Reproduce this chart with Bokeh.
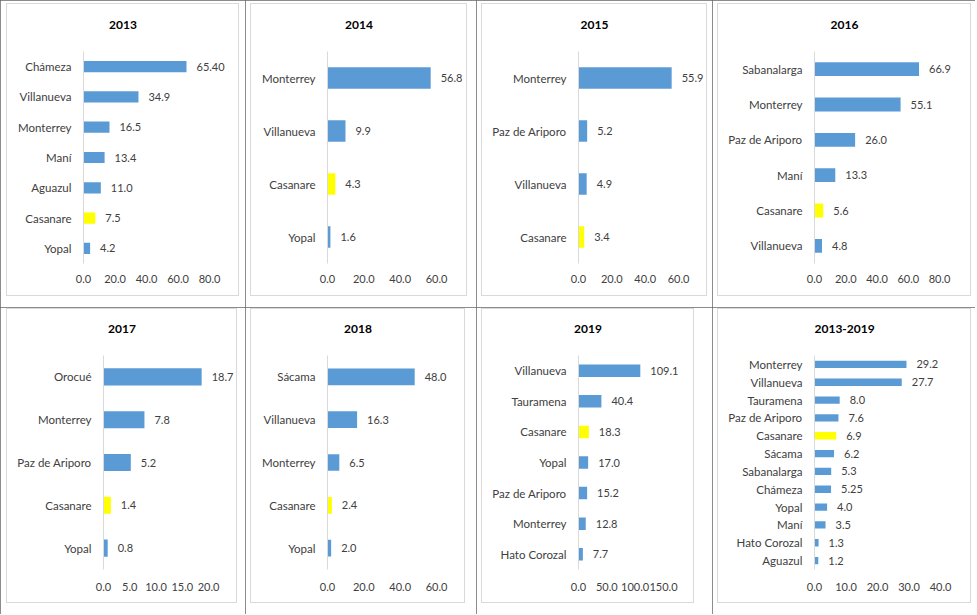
from bokeh.plotting import figure
from bokeh.models import (ColumnDataSource, Range1d, FactorRange, FixedTicker,
                          NumeralTickFormatter, InlineStyleSheet, Title)
from bokeh.layouts import row, column
from bokeh.embed import file_html
from bokeh.resources import INLINE
from bokeh.core.properties import value

# ---------------- data ----------------
title_2013 = "2013"
cats_2013 = ["Chámeza", "Villanueva", "Monterrey", "Maní", "Aguazul", "Casanare", "Yopal"]
vals_2013 = [65.40, 34.9, 16.5, 13.4, 11.0, 7.5, 4.2]
labs_2013 = ["65.40", "34.9", "16.5", "13.4", "11.0", "7.5", "4.2"]
ticks_2013 = [0, 20, 40, 60, 80]

title_2014 = "2014"
cats_2014 = ["Monterrey", "Villanueva", "Casanare", "Yopal"]
vals_2014 = [56.8, 9.9, 4.3, 1.6]
labs_2014 = ["56.8", "9.9", "4.3", "1.6"]
ticks_2014 = [0, 20, 40, 60]

title_2015 = "2015"
cats_2015 = ["Monterrey", "Paz de Ariporo", "Villanueva", "Casanare"]
vals_2015 = [55.9, 5.2, 4.9, 3.4]
labs_2015 = ["55.9", "5.2", "4.9", "3.4"]
ticks_2015 = [0, 20, 40, 60]

title_2016 = "2016"
cats_2016 = ["Sabanalarga", "Monterrey", "Paz de Ariporo", "Maní", "Casanare", "Villanueva"]
vals_2016 = [66.9, 55.1, 26.0, 13.3, 5.6, 4.8]
labs_2016 = ["66.9", "55.1", "26.0", "13.3", "5.6", "4.8"]
ticks_2016 = [0, 20, 40, 60, 80]

title_2017 = "2017"
cats_2017 = ["Orocué", "Monterrey", "Paz de Ariporo", "Casanare", "Yopal"]
vals_2017 = [18.7, 7.8, 5.2, 1.4, 0.8]
labs_2017 = ["18.7", "7.8", "5.2", "1.4", "0.8"]
ticks_2017 = [0, 5, 10, 15, 20]

title_2018 = "2018"
cats_2018 = ["Sácama", "Villanueva", "Monterrey", "Casanare", "Yopal"]
vals_2018 = [48.0, 16.3, 6.5, 2.4, 2.0]
labs_2018 = ["48.0", "16.3", "6.5", "2.4", "2.0"]
ticks_2018 = [0, 20, 40, 60]

title_2019 = "2019"
cats_2019 = ["Villanueva", "Tauramena", "Casanare", "Yopal", "Paz de Ariporo", "Monterrey", "Hato Corozal"]
vals_2019 = [109.1, 40.4, 18.3, 17.0, 15.2, 12.8, 7.7]
labs_2019 = ["109.1", "40.4", "18.3", "17.0", "15.2", "12.8", "7.7"]
ticks_2019 = [0, 50, 100, 150]

title_all = "2013-2019"
cats_all = ["Monterrey", "Villanueva", "Tauramena", "Paz de Ariporo", "Casanare", "Sácama",
            "Sabanalarga", "Chámeza", "Yopal", "Maní", "Hato Corozal", "Aguazul"]
vals_all = [29.2, 27.7, 8.0, 7.6, 6.9, 6.2, 5.3, 5.25, 4.0, 3.5, 1.3, 1.2]
labs_all = ["29.2", "27.7", "8.0", "7.6", "6.9", "6.2", "5.3", "5.25", "4.0", "3.5", "1.3", "1.2"]
ticks_all = [0, 10, 20, 30, 40]

# ---------------- style / layout ----------------
FONT = "Lato"
BLUE = "#5B9BD5"
YELLOW = "#FFFF00"
TEXT = "#404040"
DARK = "#666666"
LIGHT = "#D9D9D9"

col_w = [245, 231, 236, 263]
row_h = [307, 307]

# title, cats, vals, labels, ticks, row, col, frame-left, frame-width (to last tick),
# frame-top, frame-bottom margin, bar height, inner box (l, r, t, b), title width, x-label standoff
specs = [
    (title_2013, cats_2013, vals_2013, labs_2013, ticks_2013, 0, 0, 83, 126, 51, 44, 0.37, (6, 239, 3, 296), 28, 11),
    (title_2014, cats_2014, vals_2014, labs_2014, ticks_2014, 0, 1, 82, 109, 51, 44, 0.41, (5, 222, 3, 296), 28, 11),
    (title_2015, cats_2015, vals_2015, labs_2015, ticks_2015, 0, 2, 102, 100, 51, 44, 0.41, (5, 231, 3, 296), 28, 11),
    (title_2016, cats_2016, vals_2016, labs_2016, ticks_2016, 0, 3, 102, 125, 51, 44, 0.39, (5, 259, 3, 296), 28, 11),
    (title_2017, cats_2017, vals_2017, labs_2017, ticks_2017, 1, 0, 103, 105, 48, 45, 0.40, (6, 237, 1, 296), 28, 13),
    (title_2018, cats_2018, vals_2018, labs_2018, ticks_2018, 1, 1, 82, 109, 48, 45, 0.39, (5, 220, 1, 296), 28, 13),
    (title_2019, cats_2019, vals_2019, labs_2019, ticks_2019, 1, 2, 102, 85, 48, 45, 0.41, (5, 218, 1, 296), 28, 13),
    (title_all, cats_all, vals_all, labs_all, ticks_all, 1, 3, 102, 126, 48, 45, 0.41, (5, 259, 1, 296), 60, 13),
]


def make_chart(title, cats, vals, labs, ticks, r, c, fl, fw, ft, fb, bar_h, box, tw, xst):
    W, H = col_w[c], row_h[r]
    ext = W - fl - 3                      # frame extends to the right so value labels are not clipped
    x_end = ticks[-1] * ext / fw
    bl, br, bt, bb = box
    css = (":host { outline: 1px solid %s; outline-offset: -1px; }\n"
           ":host::after { content: ''; position: absolute; left: %dpx; top: %dpx; "
           "width: %dpx; height: %dpx; border: 1px solid %s; box-sizing: border-box; "
           "pointer-events: none; }" % (DARK, bl, bt, br - bl, bb - bt, LIGHT))
    p = figure(width=W, height=H, output_backend="svg", toolbar_location=None,
               x_range=Range1d(0, x_end), y_range=FactorRange(factors=list(reversed(cats))),
               min_border_left=fl, min_border_right=3,
               min_border_top=ft, min_border_bottom=fb, frame_align=False,
               outline_line_color=None, background_fill_color="white", border_fill_color="white",
               stylesheets=[InlineStyleSheet(css=css)])
    colors = [YELLOW if k == "Casanare" else BLUE for k in cats]
    src = ColumnDataSource(dict(cat=cats, val=vals, lab=labs, color=colors))
    p.hbar(y="cat", left=0, right="val", height=bar_h, source=src,
           fill_color="color", line_color=None)
    p.text(x="val", y="cat", text="lab", source=src, x_offset=10,
           text_align="left", text_baseline="middle", text_font=value(FONT),
           text_font_size="11px", text_color=TEXT)

    p.xgrid.visible = False
    p.ygrid.visible = False

    xa = p.xaxis[0]
    xa.ticker = FixedTicker(ticks=ticks)
    xa.formatter = NumeralTickFormatter(format="0.0")
    xa.axis_line_color = None
    xa.major_tick_line_color = None
    xa.minor_tick_line_color = None
    xa.major_tick_in = 0
    xa.major_tick_out = 0
    xa.major_label_standoff = xst
    xa.major_label_text_font = FONT
    xa.major_label_text_font_size = "11px"
    xa.major_label_text_color = TEXT

    ya = p.yaxis[0]
    ya.axis_line_color = LIGHT
    ya.axis_line_width = 1
    ya.major_tick_line_color = None
    ya.major_tick_in = 0
    ya.major_tick_out = 0
    ya.major_label_standoff = 12
    ya.major_label_text_font = FONT
    ya.major_label_text_font_size = "11.5px"
    ya.major_label_text_color = TEXT

    center = (bl + br) / 2
    p.title.text = title
    p.title.align = "left"
    p.title.offset = center - fl - tw / 2
    p.title.standoff = 10
    p.title.text_font = FONT
    p.title.text_font_style = "bold"
    p.title.text_font_size = "12px"
    p.title.text_color = "black"
    # blank spacer between the plot area and the title (lifts the title up)
    p.add_layout(Title(text=" ", standoff=1, text_font=FONT, text_font_size="12px",
                       text_color="white"), "above")
    return p


figs = [make_chart(*s) for s in specs]
layout = row(*[column(figs[i], figs[i + 4]) for i in range(4)])

html = file_html(layout, INLINE)
html = html.replace("<head>", "<head><style>body{margin:0;}</style>", 1)
open("out.html", "w", encoding="utf-8").write(html)
